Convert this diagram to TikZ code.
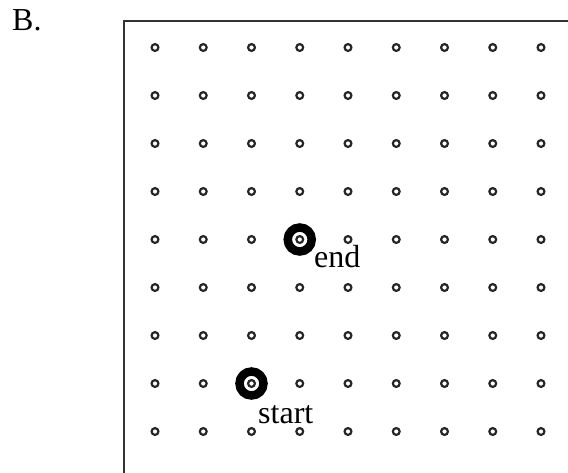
\documentclass[tikz,border=0pt]{standalone}
\usepackage{fontspec}
\setmainfont{Liberation Serif}
\begin{document}
\begin{tikzpicture}[x=1pt, y=-1pt,
  dot/.style={circle, draw=black!85, line width=2.2pt, minimum size=6.8pt, inner sep=0pt},
  target/.style={circle, draw=black, line width=8.5pt, fill=white, minimum size=24pt, inner sep=0pt},
  lbl/.style={font=\fontsize{32}{37}\selectfont, inner sep=0pt, anchor=base west}]
\useasboundingbox (0,0) rectangle (568,472);

% frame (open to the right and bottom)
\draw[line width=2.2pt, black!80] (570,21) -| (124,474);

% grid positions
\foreach \c in {1,...,9}
  \foreach \r in {1,...,9}
    \coordinate (g-\c-\r) at ({155+48.25*(\c-1)},{47.5+48*(\r-1)});

% start and end markers
\node[target] (end) at (g-4-5) {};
\node[target] (start) at (g-3-8) {};

% small grid circles
\foreach \c in {1,...,9}
  \foreach \r in {1,...,9}
    \node[dot] (d-\c-\r) at (g-\c-\r) {};

% labels
\node[lbl] (panel) at (12,30) {B.};
\node[lbl] (endlbl) at (314,267) {end};
\node[lbl] (startlbl) at (258,423) {start};
\end{tikzpicture}
\end{document}
